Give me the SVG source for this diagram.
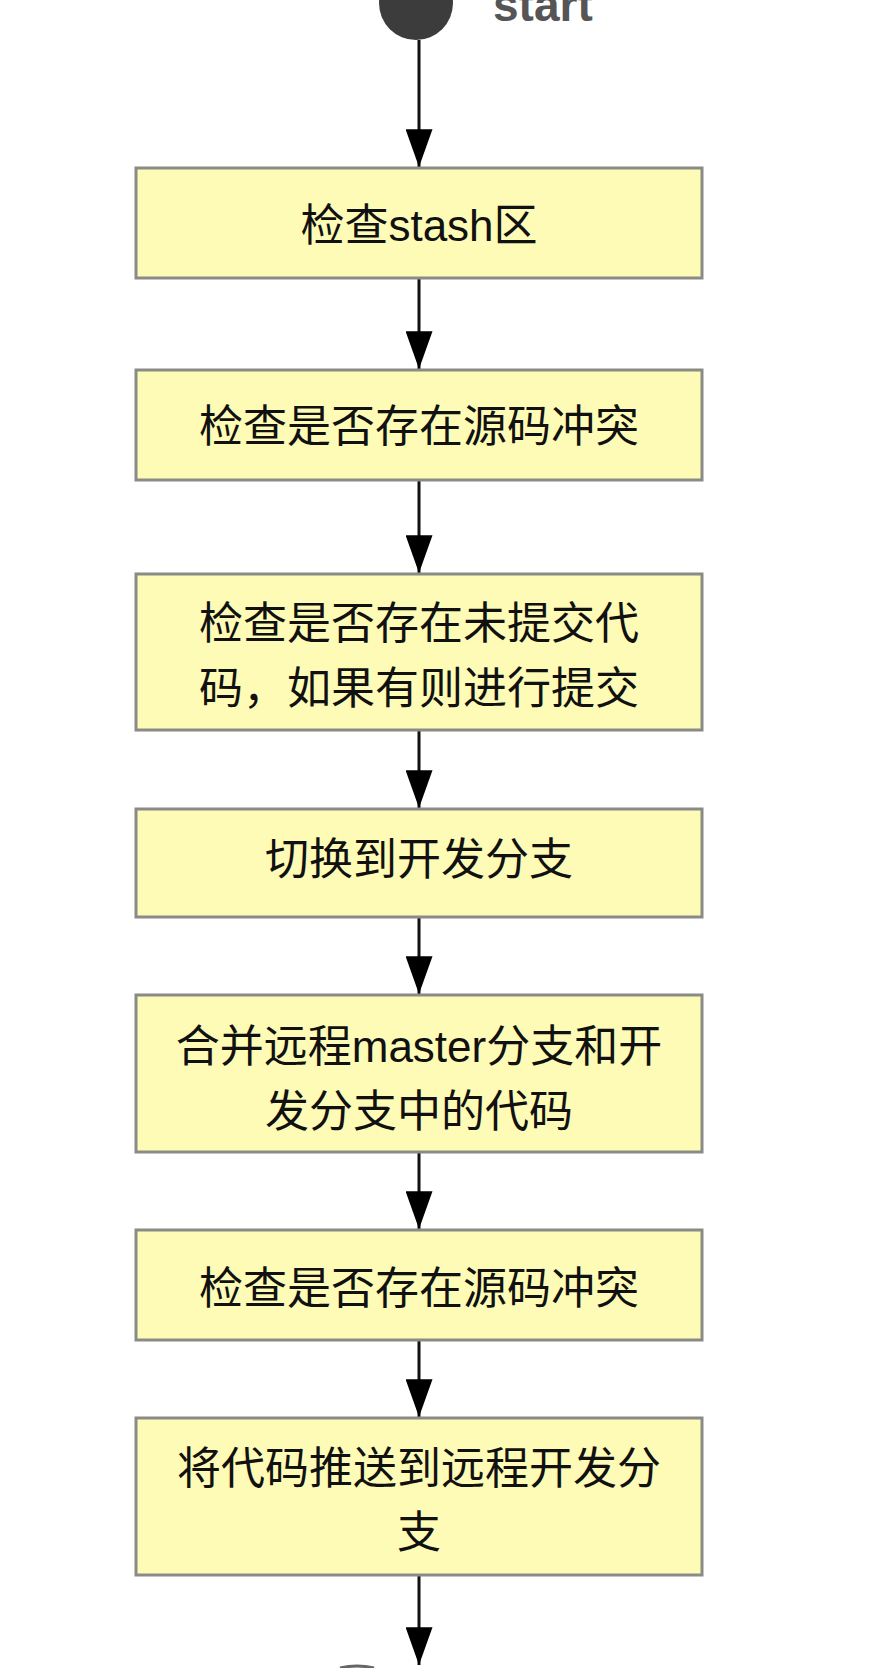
<svg xmlns="http://www.w3.org/2000/svg" width="872" height="1668" viewBox="0 0 872 1668">
<defs>
<style>
.box{fill:#FDFBB6;stroke:#8a8a86;stroke-width:3}
.lbl{font-family:"Liberation Sans","Noto Sans CJK SC",sans-serif;font-size:44px;fill:#111;text-anchor:middle}
.edge{stroke:#111;stroke-width:3;fill:none;marker-end:url(#arr)}
</style>
<marker id="arr" markerWidth="12.6" markerHeight="9" refX="12.6" refY="4.5" orient="auto" markerUnits="strokeWidth" viewBox="0 0 12.6 9">
<path d="M0,0 L12.6,4.5 L0,9 Z" fill="#000"/>
</marker>
</defs>
<rect width="872" height="1668" fill="#fff"/>
<g id="start">
<circle cx="416" cy="3" r="37" fill="#3c3c3c"/>
<text x="493" y="21" font-family="Liberation Sans,Arial,sans-serif" font-size="46" font-weight="bold" fill="#555">start</text>
</g>
<g id="connectors">
<line class="edge" x1="419" y1="40" x2="419" y2="167"/>
<line class="edge" x1="419" y1="278" x2="419" y2="369"/>
<line class="edge" x1="419" y1="480" x2="419" y2="573"/>
<line class="edge" x1="419" y1="730" x2="419" y2="808"/>
<line class="edge" x1="419" y1="917" x2="419" y2="994"/>
<line class="edge" x1="419" y1="1152" x2="419" y2="1229"/>
<line class="edge" x1="419" y1="1340" x2="419" y2="1417"/>
<line class="edge" x1="419" y1="1575" x2="419" y2="1665"/>
</g>
<g id="n1"><rect class="box" x="136" y="168" width="566" height="110"/><text class="lbl" x="419" y="241">检查stash区</text></g>
<g id="n2"><rect class="box" x="136" y="370" width="566" height="110"/><text class="lbl" x="419" y="442">检查是否存在源码冲突</text></g>
<g id="n3"><rect class="box" x="136" y="574" width="566" height="156"/><text class="lbl" x="419" y="639">检查是否存在未提交代</text><text class="lbl" x="419" y="704">码，如果有则进行提交</text></g>
<g id="n4"><rect class="box" x="136" y="809" width="566" height="108"/><text class="lbl" x="419" y="875">切换到开发分支</text></g>
<g id="n5"><rect class="box" x="136" y="995" width="566" height="157"/><text class="lbl" x="419" y="1062">合并远程master分支和开</text><text class="lbl" x="419" y="1127">发分支中的代码</text></g>
<g id="n6"><rect class="box" x="136" y="1230" width="566" height="110"/><text class="lbl" x="419" y="1304">检查是否存在源码冲突</text></g>
<g id="n7"><rect class="box" x="136" y="1418" width="566" height="157"/><text class="lbl" x="419" y="1484">将代码推送到远程开发分</text><text class="lbl" x="419" y="1548">支</text></g>
<g id="end"><path d="M340,1668 Q357,1664 374,1668" stroke="#666" stroke-width="3" fill="none"/></g>
</svg>
